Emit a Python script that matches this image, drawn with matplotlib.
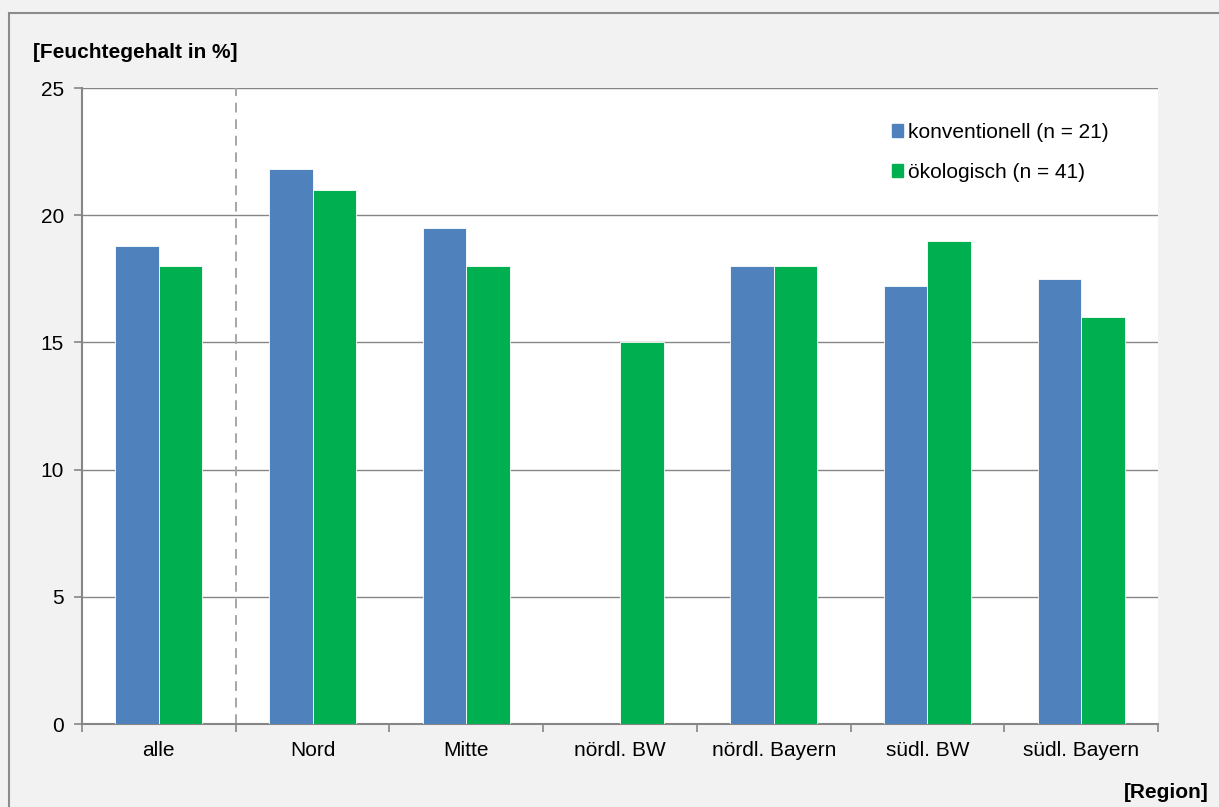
import numpy as np
import matplotlib.pyplot as plt
from matplotlib.patches import Rectangle, Patch

plt.rcParams['font.family'] = ['Liberation Sans', 'DejaVu Sans']

# Feuchtegehalt je Region, konventionell vs. ökologisch
regionen = ['alle', 'Nord', 'Mitte', 'nördl. BW', 'nördl. Bayern', 'südl. BW', 'südl. Bayern']
konventionell = [18.8, 21.8, 19.5, np.nan, 18.0, 17.2, 17.5]
oekologisch = [18.0, 21.0, 18.0, 15.0, 18.0, 19.0, 16.0]
yticks = [0, 5, 10, 15, 20, 25]

blau = '#4f81bd'
gruen = '#00b050'
grau = '#868686'

fig = plt.figure(figsize=(12.19, 8.07), dpi=100, facecolor='#f2f2f2')
# Rahmen um das Diagramm
fig.patches.append(Rectangle((9 / 1219, -0.1), 1.2, 1 - 13 / 807 + 0.1,
                             transform=fig.transFigure, fill=False,
                             edgecolor='#8c8c8c', linewidth=1.5))

ax = fig.add_axes([82 / 1219, 1 - 724 / 807, (1158 - 82) / 1219, (724 - 88) / 807])
ax.set_facecolor('white')

x = np.arange(len(regionen))
w = 0.283
ax.bar(x - w / 2, konventionell, w, color=blau, edgecolor='white', linewidth=0.6,
       label='konventionell (n = 21)', zorder=3)
ax.bar(x + w / 2, oekologisch, w, color=gruen, edgecolor='white', linewidth=0.6,
       label='ökologisch (n = 41)', zorder=3)

ax.set_xlim(-0.5, len(regionen) - 0.5)
ax.set_ylim(0, 25)
ax.set_yticks(yticks)
ax.set_yticklabels([str(t) for t in yticks], fontsize=15)
ax.yaxis.grid(True, color=grau, linewidth=1)
ax.set_axisbelow(True)

# Kategorienamen mittig, Teilstriche zwischen den Kategorien
ax.set_xticks(x)
ax.set_xticklabels(regionen, fontsize=15)
ax.tick_params(axis='x', length=0, pad=12)
ax.set_xticks(np.arange(-0.5, len(regionen)), minor=True)
ax.tick_params(axis='x', which='minor', length=6, color=grau, width=1.2)
ax.tick_params(axis='y', length=6, color=grau, width=1.2, pad=7)

for s in ['top', 'right']:
    ax.spines[s].set_visible(False)
for s in ['left', 'bottom']:
    ax.spines[s].set_color(grau)
    ax.spines[s].set_linewidth(1.5)

# Trennlinie zwischen Gesamtwert und Regionen
ax.axvline(0.5, color='#a6a6a6', linestyle=(0, (5, 3.5)), linewidth=1.4, zorder=2)

handles = [Patch(color=blau), Patch(color=gruen)]
ax.legend(handles, ['konventionell (n = 21)', 'ökologisch (n = 41)'],
          loc='upper left', bbox_to_anchor=(0.753, 0.945), frameon=False,
          borderpad=0, borderaxespad=0,
          fontsize=15, handlelength=0.53, handleheight=0.53, handletextpad=0.24,
          labelspacing=1.0)

fig.text(33 / 1219, 1 - 52 / 807, '[Feuchtegehalt in %]', fontsize=15,
         fontweight='bold', va='center', ha='left')
fig.text(1209 / 1219, 1 - 793 / 807, '[Region]', fontsize=15,
         fontweight='bold', va='center', ha='right')

fig.savefig('out.png', dpi=100, facecolor=fig.get_facecolor())
